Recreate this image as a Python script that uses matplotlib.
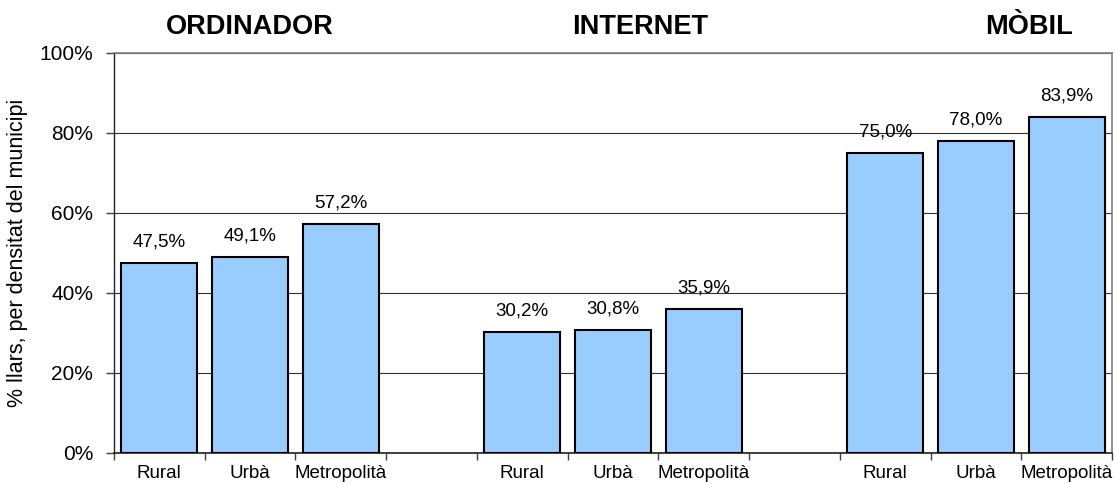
import numpy as np
import matplotlib
matplotlib.use("Agg")
import matplotlib.pyplot as plt
import matplotlib.transforms as mtransforms

plt.rcParams['font.family'] = ['Liberation Sans', 'DejaVu Sans']

# ---------------- dades / data ----------------
groups = ["ORDINADOR", "INTERNET", "MÒBIL"]
categories = ["Rural", "Urbà", "Metropolità"]
ordinador = [47.5, 49.1, 57.2]
internet = [30.2, 30.8, 35.9]
mobil = [75.0, 78.0, 83.9]
y_ticks = [0, 20, 40, 60, 80, 100]
y_label = "% llars, per densitat del municipi"

# posicions: 3 barres per grup + un buit entre grups
series = [ordinador, internet, mobil]
xpos, heights, labels = [], [], []
for g, vals in enumerate(series):
    for k, v in enumerate(vals):
        xpos.append(g * 4 + k)
        heights.append(v)
        labels.append(categories[k])
n_slots = 11

fig = plt.figure(figsize=(11.15, 4.84), dpi=100)
ax = fig.add_axes([114 / 1115, 1 - 453 / 484, 998 / 1115, 400 / 484])

ax.bar(xpos, heights, width=0.84, color="#99CCFF", edgecolor="black", linewidth=1.5, zorder=3)

# etiquetes de valor
for x, h in zip(xpos, heights):
    ax.annotate(f"{h:.1f}%".replace(".", ","), (x, h), xytext=(0, 21),
                textcoords="offset pixels", ha="center", va="center", fontsize=13.5)

ax.set_xlim(-0.5, n_slots - 0.5)
ax.set_ylim(0, 100)
ax.set_yticks(y_ticks)
ax.set_yticklabels([f"{t}%" for t in y_ticks], fontsize=15)
ax.yaxis.grid(True, color="#303030", linewidth=0.8, zorder=0)
ax.set_axisbelow(True)

# ticks a les fronteres de categoria, etiquetes al centre
ax.set_xticks(np.arange(-0.5, n_slots, 1.0))
ax.set_xticklabels([])
ax.set_xticks(xpos, minor=True)
ax.set_xticklabels(labels, minor=True, fontsize=13.5)
ax.tick_params(axis="x", which="minor", length=0, pad=9)
ax.tick_params(axis="x", which="major", length=5, width=1, color="#404040")
ax.tick_params(axis="y", length=6, width=1, color="#404040", pad=9)

ax.set_ylabel(y_label, fontsize=15.5, labelpad=8)

for s in ["top", "right"]:
    ax.spines[s].set_color("#808080")
    ax.spines[s].set_linewidth(1.2)
ax.spines["left"].set_color("#202020")
ax.spines["bottom"].set_color("#202020")
ax.spines["left"].set_linewidth(1.0)
ax.spines["bottom"].set_linewidth(1.2)

# títols dels grups
trans = mtransforms.blended_transform_factory(ax.transData, ax.transAxes)
title_x = [1.0, 5.3, 9.58]
for gx, name in zip(title_x, groups):
    ax.text(gx, 1.065, name, transform=trans, ha="center", va="center",
            fontsize=19.5, fontweight="bold")

fig.savefig("out.png", dpi=100)
